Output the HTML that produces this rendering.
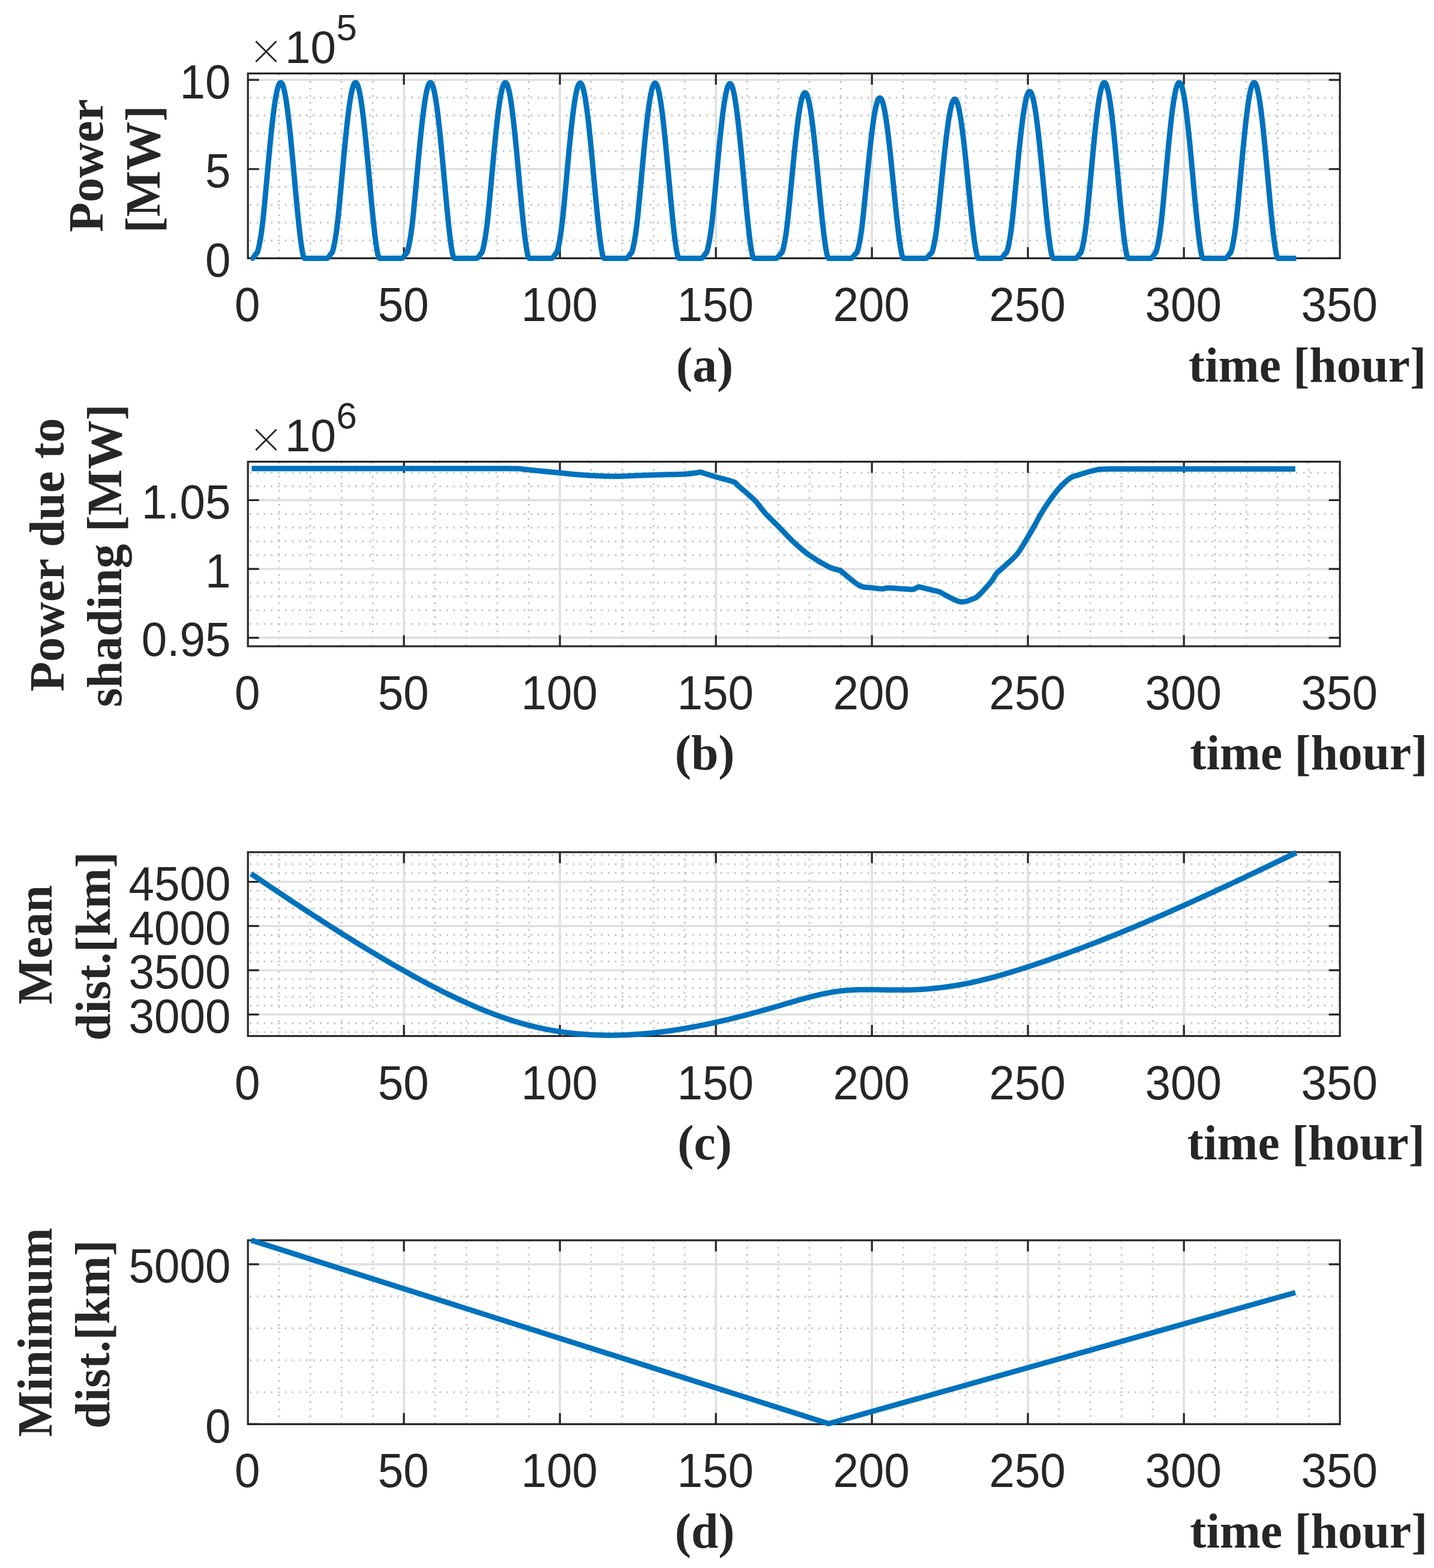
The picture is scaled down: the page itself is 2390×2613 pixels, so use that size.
<!DOCTYPE html>
<html><head><meta charset="utf-8"><title>Figure</title>
<style>html,body{margin:0;padding:0;background:#fff}svg{display:block}</style></head>
<body><svg width="2390" height="2613" viewBox="0 0 2390 2613">
<rect width="100%" height="100%" fill="#fff"/>
<path d="M465.2 430.4V122.4M517.2 430.4V122.4M569.2 430.4V122.4M621.2 430.4V122.4M725.2 430.4V122.4M777.2 430.4V122.4M829.2 430.4V122.4M881.2 430.4V122.4M985.2 430.4V122.4M1037.2 430.4V122.4M1089.2 430.4V122.4M1141.2 430.4V122.4M1245.2 430.4V122.4M1297.2 430.4V122.4M1349.2 430.4V122.4M1401.2 430.4V122.4M1505.2 430.4V122.4M1557.2 430.4V122.4M1609.2 430.4V122.4M1661.2 430.4V122.4M1765.2 430.4V122.4M1817.2 430.4V122.4M1869.2 430.4V122.4M1921.2 430.4V122.4M2025.2 430.4V122.4M2077.2 430.4V122.4M2129.2 430.4V122.4M2181.2 430.4V122.4M2233.2 400.67H413.2M2233.2 370.94H413.2M2233.2 341.21H413.2M2233.2 311.48H413.2M2233.2 252.02H413.2M2233.2 222.29H413.2M2233.2 192.56H413.2M2233.2 162.83H413.2" stroke="#c8c8c8" stroke-width="3" stroke-dasharray="3 8.704" fill="none"/>
<path d="M673.2 122.4V430.4M933.2 122.4V430.4M1193.2 122.4V430.4M1453.2 122.4V430.4M1713.2 122.4V430.4M1973.2 122.4V430.4M413.2 430.4H2233.2M413.2 281.75H2233.2M413.2 133.1H2233.2" stroke="#dedede" stroke-width="3.4" fill="none"/>
<path d="M673.2 430.4v-18.5M673.2 122.4v18.5M933.2 430.4v-18.5M933.2 122.4v18.5M1193.2 430.4v-18.5M1193.2 122.4v18.5M1453.2 430.4v-18.5M1453.2 122.4v18.5M1713.2 430.4v-18.5M1713.2 122.4v18.5M1973.2 430.4v-18.5M1973.2 122.4v18.5M413.2 430.4h18.5M2233.2 430.4h-18.5M413.2 281.75h18.5M2233.2 281.75h-18.5M413.2 133.1h18.5M2233.2 133.1h-18.5" stroke="#262626" stroke-width="3.2" fill="none"/>
<rect x="413.2" y="122.4" width="1820" height="308" fill="none" stroke="#262626" stroke-width="3.2"/>
<path d="M418.4 430.4 L419.44 430.4 L420.48 430.34 L421.52 429.83 L422.56 428.86 L423.6 427.55 L424.64 426.04 L425.68 424.48 L426.72 423.04 L427.76 421.89 L428.8 420.73 L429.84 417.81 L430.88 413.87 L431.92 409.22 L432.96 403.98 L434 398.14 L435.04 391.65 L436.08 384.46 L437.12 376.46 L438.16 367.61 L439.2 357.86 L440.24 347.3 L441.28 336.38 L442.32 325.23 L443.36 313.93 L444.4 302.52 L445.44 291.09 L446.48 279.68 L447.52 268.37 L448.56 257.21 L449.6 246.26 L450.64 235.58 L451.68 225.22 L452.72 215.23 L453.76 205.67 L454.8 196.58 L455.84 188.01 L456.88 179.99 L457.92 172.58 L458.96 165.8 L460 159.69 L461.04 154.28 L462.08 149.59 L463.12 145.64 L464.16 142.47 L465.2 140.07 L466.24 138.46 L467.28 137.66 L468.32 137.66 L469.36 138.46 L470.4 140.07 L471.44 142.47 L472.48 145.64 L473.52 149.59 L474.56 154.28 L475.6 159.69 L476.64 165.8 L477.68 172.58 L478.72 179.99 L479.76 188.01 L480.8 196.58 L481.84 205.67 L482.88 215.23 L483.92 225.22 L484.96 235.58 L486 246.26 L487.04 257.21 L488.08 268.37 L489.12 279.68 L490.16 291.09 L491.2 302.52 L492.24 313.93 L493.28 325.23 L494.32 336.38 L495.36 347.3 L496.4 357.92 L497.44 368.18 L498.48 378 L499.52 387.3 L500.56 396.02 L501.6 404.06 L502.64 411.33 L503.68 417.73 L504.72 423.13 L505.76 427.32 L506.8 429.99 L507.84 430.4 L508.88 430.4 L509.92 430.4 L510.96 430.4 L512 430.4 L513.04 430.4 L514.08 430.4 L515.12 430.4 L516.16 430.4 L517.2 430.4 L518.24 430.4 L519.28 430.4 L520.32 430.4 L521.36 430.4 L522.4 430.4 L523.44 430.4 L524.48 430.4 L525.52 430.4 L526.56 430.4 L527.6 430.4 L528.64 430.4 L529.68 430.4 L530.72 430.4 L531.76 430.4 L532.8 430.4 L533.84 430.4 L534.88 430.4 L535.92 430.4 L536.96 430.4 L538 430.4 L539.04 430.4 L540.08 430.4 L541.12 430.4 L542.16 430.4 L543.2 430.4 L544.24 430.4 L545.28 430.34 L546.32 429.83 L547.36 428.86 L548.4 427.55 L549.44 426.04 L550.48 424.48 L551.52 423.04 L552.56 421.89 L553.6 420.73 L554.64 417.81 L555.68 413.87 L556.72 409.22 L557.76 403.98 L558.8 398.14 L559.84 391.65 L560.88 384.46 L561.92 376.46 L562.96 367.61 L564 357.86 L565.04 347.3 L566.08 336.38 L567.12 325.23 L568.16 313.93 L569.2 302.52 L570.24 291.09 L571.28 279.68 L572.32 268.37 L573.36 257.21 L574.4 246.26 L575.44 235.58 L576.48 225.22 L577.52 215.23 L578.56 205.67 L579.6 196.58 L580.64 188.01 L581.68 179.99 L582.72 172.58 L583.76 165.8 L584.8 159.69 L585.84 154.28 L586.88 149.59 L587.92 145.64 L588.96 142.47 L590 140.07 L591.04 138.46 L592.08 137.66 L593.12 137.66 L594.16 138.46 L595.2 140.07 L596.24 142.47 L597.28 145.64 L598.32 149.59 L599.36 154.28 L600.4 159.69 L601.44 165.8 L602.48 172.58 L603.52 179.99 L604.56 188.01 L605.6 196.58 L606.64 205.67 L607.68 215.23 L608.72 225.22 L609.76 235.58 L610.8 246.26 L611.84 257.21 L612.88 268.37 L613.92 279.68 L614.96 291.09 L616 302.52 L617.04 313.93 L618.08 325.23 L619.12 336.38 L620.16 347.3 L621.2 357.92 L622.24 368.18 L623.28 378 L624.32 387.3 L625.36 396.02 L626.4 404.06 L627.44 411.33 L628.48 417.73 L629.52 423.13 L630.56 427.32 L631.6 429.99 L632.64 430.4 L633.68 430.4 L634.72 430.4 L635.76 430.4 L636.8 430.4 L637.84 430.4 L638.88 430.4 L639.92 430.4 L640.96 430.4 L642 430.4 L643.04 430.4 L644.08 430.4 L645.12 430.4 L646.16 430.4 L647.2 430.4 L648.24 430.4 L649.28 430.4 L650.32 430.4 L651.36 430.4 L652.4 430.4 L653.44 430.4 L654.48 430.4 L655.52 430.4 L656.56 430.4 L657.6 430.4 L658.64 430.4 L659.68 430.4 L660.72 430.4 L661.76 430.4 L662.8 430.4 L663.84 430.4 L664.88 430.4 L665.92 430.4 L666.96 430.4 L668 430.4 L669.04 430.4 L670.08 430.34 L671.12 429.83 L672.16 428.86 L673.2 427.55 L674.24 426.04 L675.28 424.48 L676.32 423.04 L677.36 421.89 L678.4 420.73 L679.44 417.81 L680.48 413.87 L681.52 409.22 L682.56 403.98 L683.6 398.14 L684.64 391.65 L685.68 384.46 L686.72 376.46 L687.76 367.61 L688.8 357.86 L689.84 347.3 L690.88 336.38 L691.92 325.23 L692.96 313.93 L694 302.52 L695.04 291.09 L696.08 279.68 L697.12 268.37 L698.16 257.21 L699.2 246.26 L700.24 235.58 L701.28 225.22 L702.32 215.23 L703.36 205.67 L704.4 196.58 L705.44 188.01 L706.48 179.99 L707.52 172.58 L708.56 165.8 L709.6 159.69 L710.64 154.28 L711.68 149.59 L712.72 145.64 L713.76 142.47 L714.8 140.07 L715.84 138.46 L716.88 137.66 L717.92 137.66 L718.96 138.46 L720 140.07 L721.04 142.47 L722.08 145.64 L723.12 149.59 L724.16 154.28 L725.2 159.69 L726.24 165.8 L727.28 172.58 L728.32 179.99 L729.36 188.01 L730.4 196.58 L731.44 205.67 L732.48 215.23 L733.52 225.22 L734.56 235.58 L735.6 246.26 L736.64 257.21 L737.68 268.37 L738.72 279.68 L739.76 291.09 L740.8 302.52 L741.84 313.93 L742.88 325.23 L743.92 336.38 L744.96 347.3 L746 357.92 L747.04 368.18 L748.08 378 L749.12 387.3 L750.16 396.02 L751.2 404.06 L752.24 411.33 L753.28 417.73 L754.32 423.13 L755.36 427.32 L756.4 429.99 L757.44 430.4 L758.48 430.4 L759.52 430.4 L760.56 430.4 L761.6 430.4 L762.64 430.4 L763.68 430.4 L764.72 430.4 L765.76 430.4 L766.8 430.4 L767.84 430.4 L768.88 430.4 L769.92 430.4 L770.96 430.4 L772 430.4 L773.04 430.4 L774.08 430.4 L775.12 430.4 L776.16 430.4 L777.2 430.4 L778.24 430.4 L779.28 430.4 L780.32 430.4 L781.36 430.4 L782.4 430.4 L783.44 430.4 L784.48 430.4 L785.52 430.4 L786.56 430.4 L787.6 430.4 L788.64 430.4 L789.68 430.4 L790.72 430.4 L791.76 430.4 L792.8 430.4 L793.84 430.4 L794.88 430.34 L795.92 429.83 L796.96 428.86 L798 427.55 L799.04 426.04 L800.08 424.48 L801.12 423.04 L802.16 421.89 L803.2 420.73 L804.24 417.81 L805.28 413.87 L806.32 409.22 L807.36 403.98 L808.4 398.14 L809.44 391.65 L810.48 384.46 L811.52 376.46 L812.56 367.61 L813.6 357.86 L814.64 347.3 L815.68 336.38 L816.72 325.23 L817.76 313.93 L818.8 302.52 L819.84 291.09 L820.88 279.68 L821.92 268.37 L822.96 257.21 L824 246.26 L825.04 235.58 L826.08 225.22 L827.12 215.23 L828.16 205.67 L829.2 196.58 L830.24 188.01 L831.28 179.99 L832.32 172.58 L833.36 165.8 L834.4 159.69 L835.44 154.28 L836.48 149.59 L837.52 145.64 L838.56 142.47 L839.6 140.07 L840.64 138.46 L841.68 137.66 L842.72 137.66 L843.76 138.46 L844.8 140.07 L845.84 142.47 L846.88 145.64 L847.92 149.59 L848.96 154.28 L850 159.69 L851.04 165.8 L852.08 172.58 L853.12 179.99 L854.16 188.01 L855.2 196.58 L856.24 205.67 L857.28 215.23 L858.32 225.22 L859.36 235.58 L860.4 246.26 L861.44 257.21 L862.48 268.37 L863.52 279.68 L864.56 291.09 L865.6 302.52 L866.64 313.93 L867.68 325.23 L868.72 336.38 L869.76 347.3 L870.8 357.92 L871.84 368.18 L872.88 378 L873.92 387.3 L874.96 396.02 L876 404.06 L877.04 411.33 L878.08 417.73 L879.12 423.13 L880.16 427.32 L881.2 429.99 L882.24 430.4 L883.28 430.4 L884.32 430.4 L885.36 430.4 L886.4 430.4 L887.44 430.4 L888.48 430.4 L889.52 430.4 L890.56 430.4 L891.6 430.4 L892.64 430.4 L893.68 430.4 L894.72 430.4 L895.76 430.4 L896.8 430.4 L897.84 430.4 L898.88 430.4 L899.92 430.4 L900.96 430.4 L902 430.4 L903.04 430.4 L904.08 430.4 L905.12 430.4 L906.16 430.4 L907.2 430.4 L908.24 430.4 L909.28 430.4 L910.32 430.4 L911.36 430.4 L912.4 430.4 L913.44 430.4 L914.48 430.4 L915.52 430.4 L916.56 430.4 L917.6 430.4 L918.64 430.4 L919.68 430.34 L920.72 429.83 L921.76 428.87 L922.8 427.56 L923.84 426.05 L924.88 424.49 L925.92 423.06 L926.96 421.92 L928 420.76 L929.04 417.85 L930.08 413.92 L931.12 409.29 L932.16 404.06 L933.2 398.23 L934.24 391.77 L935.28 384.6 L936.32 376.63 L937.36 367.8 L938.4 358.08 L939.44 347.55 L940.48 336.67 L941.52 325.56 L942.56 314.28 L943.6 302.91 L944.64 291.51 L945.68 280.14 L946.72 268.86 L947.76 257.74 L948.8 246.82 L949.84 236.17 L950.88 225.84 L951.92 215.89 L952.96 206.35 L954 197.29 L955.04 188.75 L956.08 180.76 L957.12 173.36 L958.16 166.61 L959.2 160.51 L960.24 155.12 L961.28 150.44 L962.32 146.51 L963.36 143.34 L964.4 140.95 L965.44 139.35 L966.48 138.55 L967.52 138.55 L968.56 139.35 L969.6 140.95 L970.64 143.34 L971.68 146.51 L972.72 150.44 L973.76 155.12 L974.8 160.51 L975.84 166.61 L976.88 173.36 L977.92 180.76 L978.96 188.75 L980 197.29 L981.04 206.35 L982.08 215.89 L983.12 225.84 L984.16 236.17 L985.2 246.82 L986.24 257.74 L987.28 268.86 L988.32 280.14 L989.36 291.51 L990.4 302.91 L991.44 314.28 L992.48 325.56 L993.52 336.67 L994.56 347.55 L995.6 358.14 L996.64 368.37 L997.68 378.16 L998.72 387.43 L999.76 396.12 L1000.8 404.14 L1001.84 411.39 L1002.88 417.77 L1003.92 423.15 L1004.96 427.33 L1006 429.99 L1007.04 430.4 L1008.08 430.4 L1009.12 430.4 L1010.16 430.4 L1011.2 430.4 L1012.24 430.4 L1013.28 430.4 L1014.32 430.4 L1015.36 430.4 L1016.4 430.4 L1017.44 430.4 L1018.48 430.4 L1019.52 430.4 L1020.56 430.4 L1021.6 430.4 L1022.64 430.4 L1023.68 430.4 L1024.72 430.4 L1025.76 430.4 L1026.8 430.4 L1027.84 430.4 L1028.88 430.4 L1029.92 430.4 L1030.96 430.4 L1032 430.4 L1033.04 430.4 L1034.08 430.4 L1035.12 430.4 L1036.16 430.4 L1037.2 430.4 L1038.24 430.4 L1039.28 430.4 L1040.32 430.4 L1041.36 430.4 L1042.4 430.4 L1043.44 430.4 L1044.48 430.34 L1045.52 429.83 L1046.56 428.87 L1047.6 427.56 L1048.64 426.05 L1049.68 424.49 L1050.72 423.06 L1051.76 421.92 L1052.8 420.76 L1053.84 417.85 L1054.88 413.92 L1055.92 409.29 L1056.96 404.06 L1058 398.23 L1059.04 391.77 L1060.08 384.6 L1061.12 376.63 L1062.16 367.8 L1063.2 358.08 L1064.24 347.55 L1065.28 336.67 L1066.32 325.56 L1067.36 314.28 L1068.4 302.91 L1069.44 291.51 L1070.48 280.14 L1071.52 268.86 L1072.56 257.74 L1073.6 246.82 L1074.64 236.17 L1075.68 225.84 L1076.72 215.89 L1077.76 206.35 L1078.8 197.29 L1079.84 188.75 L1080.88 180.76 L1081.92 173.36 L1082.96 166.61 L1084 160.51 L1085.04 155.12 L1086.08 150.44 L1087.12 146.51 L1088.16 143.34 L1089.2 140.95 L1090.24 139.35 L1091.28 138.55 L1092.32 138.55 L1093.36 139.35 L1094.4 140.95 L1095.44 143.34 L1096.48 146.51 L1097.52 150.44 L1098.56 155.12 L1099.6 160.51 L1100.64 166.61 L1101.68 173.36 L1102.72 180.76 L1103.76 188.75 L1104.8 197.29 L1105.84 206.35 L1106.88 215.89 L1107.92 225.84 L1108.96 236.17 L1110 246.82 L1111.04 257.74 L1112.08 268.86 L1113.12 280.14 L1114.16 291.51 L1115.2 302.91 L1116.24 314.28 L1117.28 325.56 L1118.32 336.67 L1119.36 347.55 L1120.4 358.14 L1121.44 368.37 L1122.48 378.16 L1123.52 387.43 L1124.56 396.12 L1125.6 404.14 L1126.64 411.39 L1127.68 417.77 L1128.72 423.15 L1129.76 427.33 L1130.8 429.99 L1131.84 430.4 L1132.88 430.4 L1133.92 430.4 L1134.96 430.4 L1136 430.4 L1137.04 430.4 L1138.08 430.4 L1139.12 430.4 L1140.16 430.4 L1141.2 430.4 L1142.24 430.4 L1143.28 430.4 L1144.32 430.4 L1145.36 430.4 L1146.4 430.4 L1147.44 430.4 L1148.48 430.4 L1149.52 430.4 L1150.56 430.4 L1151.6 430.4 L1152.64 430.4 L1153.68 430.4 L1154.72 430.4 L1155.76 430.4 L1156.8 430.4 L1157.84 430.4 L1158.88 430.4 L1159.92 430.4 L1160.96 430.4 L1162 430.4 L1163.04 430.4 L1164.08 430.4 L1165.12 430.4 L1166.16 430.4 L1167.2 430.4 L1168.24 430.4 L1169.28 430.34 L1170.32 429.83 L1171.36 428.87 L1172.4 427.57 L1173.44 426.06 L1174.48 424.51 L1175.52 423.09 L1176.56 421.94 L1177.6 420.79 L1178.64 417.89 L1179.68 413.97 L1180.72 409.35 L1181.76 404.14 L1182.8 398.33 L1183.84 391.89 L1184.88 384.74 L1185.92 376.79 L1186.96 367.99 L1188 358.3 L1189.04 347.81 L1190.08 336.95 L1191.12 325.88 L1192.16 314.64 L1193.2 303.3 L1194.24 291.93 L1195.28 280.6 L1196.32 269.36 L1197.36 258.26 L1198.4 247.38 L1199.44 236.76 L1200.48 226.47 L1201.52 216.54 L1202.56 207.04 L1203.6 198 L1204.64 189.48 L1205.68 181.52 L1206.72 174.15 L1207.76 167.41 L1208.8 161.34 L1209.84 155.96 L1210.88 151.3 L1211.92 147.38 L1212.96 144.22 L1214 141.84 L1215.04 140.24 L1216.08 139.44 L1217.12 139.44 L1218.16 140.24 L1219.2 141.84 L1220.24 144.22 L1221.28 147.38 L1222.32 151.3 L1223.36 155.96 L1224.4 161.34 L1225.44 167.41 L1226.48 174.15 L1227.52 181.52 L1228.56 189.48 L1229.6 198 L1230.64 207.04 L1231.68 216.54 L1232.72 226.47 L1233.76 236.76 L1234.8 247.38 L1235.84 258.26 L1236.88 269.36 L1237.92 280.6 L1238.96 291.93 L1240 303.3 L1241.04 314.64 L1242.08 325.88 L1243.12 336.95 L1244.16 347.81 L1245.2 358.36 L1246.24 368.56 L1247.28 378.32 L1248.32 387.57 L1249.36 396.23 L1250.4 404.22 L1251.44 411.45 L1252.48 417.81 L1253.52 423.17 L1254.56 427.34 L1255.6 429.99 L1256.64 430.4 L1257.68 430.4 L1258.72 430.4 L1259.76 430.4 L1260.8 430.4 L1261.84 430.4 L1262.88 430.4 L1263.92 430.4 L1264.96 430.4 L1266 430.4 L1267.04 430.4 L1268.08 430.4 L1269.12 430.4 L1270.16 430.4 L1271.2 430.4 L1272.24 430.4 L1273.28 430.4 L1274.32 430.4 L1275.36 430.4 L1276.4 430.4 L1277.44 430.4 L1278.48 430.4 L1279.52 430.4 L1280.56 430.4 L1281.6 430.4 L1282.64 430.4 L1283.68 430.4 L1284.72 430.4 L1285.76 430.4 L1286.8 430.4 L1287.84 430.4 L1288.88 430.4 L1289.92 430.4 L1290.96 430.4 L1292 430.4 L1293.04 430.4 L1294.08 430.34 L1295.12 429.86 L1296.16 428.95 L1297.2 427.72 L1298.24 426.29 L1299.28 424.82 L1300.32 423.47 L1301.36 422.38 L1302.4 421.68 L1303.44 420.35 L1304.48 417.47 L1305.52 413.72 L1306.56 409.29 L1307.6 404.2 L1308.64 398.44 L1309.68 391.93 L1310.72 384.62 L1311.76 376.44 L1312.8 367.38 L1313.84 357.51 L1314.88 347.25 L1315.92 336.74 L1316.96 326.04 L1318 315.22 L1319.04 304.34 L1320.08 293.46 L1321.12 282.64 L1322.16 271.94 L1323.2 261.42 L1324.24 251.13 L1325.28 241.13 L1326.32 231.47 L1327.36 222.2 L1328.4 213.36 L1329.44 205.01 L1330.48 197.17 L1331.52 189.91 L1332.56 183.24 L1333.6 177.2 L1334.64 171.82 L1335.68 167.14 L1336.72 163.16 L1337.76 159.92 L1338.8 157.43 L1339.84 155.69 L1340.88 154.72 L1341.92 154.53 L1342.96 155.11 L1344 156.46 L1345.04 158.58 L1346.08 161.45 L1347.12 165.06 L1348.16 169.39 L1349.2 174.43 L1350.24 180.14 L1351.28 186.49 L1352.32 193.47 L1353.36 201.02 L1354.4 209.12 L1355.44 217.72 L1356.48 226.78 L1357.52 236.25 L1358.56 246.09 L1359.6 256.24 L1360.64 266.65 L1361.68 277.27 L1362.72 288.04 L1363.76 298.9 L1364.8 309.79 L1365.84 320.65 L1366.88 331.41 L1367.92 342.02 L1368.96 352.41 L1370 362.52 L1371.04 372.27 L1372.08 381.59 L1373.12 390.41 L1374.16 398.67 L1375.2 406.26 L1376.24 413.11 L1377.28 419.1 L1378.32 424.11 L1379.36 427.94 L1380.4 430.21 L1381.44 430.4 L1382.48 430.4 L1383.52 430.4 L1384.56 430.4 L1385.6 430.4 L1386.64 430.4 L1387.68 430.4 L1388.72 430.4 L1389.76 430.4 L1390.8 430.4 L1391.84 430.4 L1392.88 430.4 L1393.92 430.4 L1394.96 430.4 L1396 430.4 L1397.04 430.4 L1398.08 430.4 L1399.12 430.4 L1400.16 430.4 L1401.2 430.4 L1402.24 430.4 L1403.28 430.4 L1404.32 430.4 L1405.36 430.4 L1406.4 430.4 L1407.44 430.4 L1408.48 430.4 L1409.52 430.4 L1410.56 430.4 L1411.6 430.4 L1412.64 430.4 L1413.68 430.4 L1414.72 430.4 L1415.76 430.4 L1416.8 430.4 L1417.84 430.4 L1418.88 430.34 L1419.92 429.88 L1420.96 429 L1422 427.8 L1423.04 426.42 L1424.08 424.99 L1425.12 423.68 L1426.16 422.63 L1427.2 421.95 L1428.24 420.66 L1429.28 417.87 L1430.32 414.24 L1431.36 409.95 L1432.4 405.02 L1433.44 399.44 L1434.48 393.14 L1435.52 386.05 L1436.56 378.13 L1437.6 369.35 L1438.64 359.78 L1439.68 349.85 L1440.72 339.67 L1441.76 329.31 L1442.8 318.82 L1443.84 308.28 L1444.88 297.74 L1445.92 287.26 L1446.96 276.89 L1448 266.7 L1449.04 256.73 L1450.08 247.04 L1451.12 237.68 L1452.16 228.7 L1453.2 220.14 L1454.24 212.05 L1455.28 204.46 L1456.32 197.42 L1457.36 190.96 L1458.4 185.11 L1459.44 179.9 L1460.48 175.36 L1461.52 171.51 L1462.56 168.37 L1463.6 165.96 L1464.64 164.27 L1465.68 163.34 L1466.72 163.15 L1467.76 163.71 L1468.8 165.02 L1469.84 167.07 L1470.88 169.85 L1471.92 173.35 L1472.96 177.55 L1474 182.43 L1475.04 187.96 L1476.08 194.12 L1477.12 200.87 L1478.16 208.19 L1479.2 216.03 L1480.24 224.37 L1481.28 233.14 L1482.32 242.32 L1483.36 251.85 L1484.4 261.68 L1485.44 271.77 L1486.48 282.06 L1487.52 292.49 L1488.56 303.01 L1489.6 313.55 L1490.64 324.07 L1491.68 334.51 L1492.72 344.79 L1493.76 354.85 L1494.8 364.64 L1495.84 374.08 L1496.88 383.11 L1497.92 391.66 L1498.96 399.66 L1500 407.01 L1501.04 413.65 L1502.08 419.46 L1503.12 424.31 L1504.16 428.02 L1505.2 430.22 L1506.24 430.4 L1507.28 430.4 L1508.32 430.4 L1509.36 430.4 L1510.4 430.4 L1511.44 430.4 L1512.48 430.4 L1513.52 430.4 L1514.56 430.4 L1515.6 430.4 L1516.64 430.4 L1517.68 430.4 L1518.72 430.4 L1519.76 430.4 L1520.8 430.4 L1521.84 430.4 L1522.88 430.4 L1523.92 430.4 L1524.96 430.4 L1526 430.4 L1527.04 430.4 L1528.08 430.4 L1529.12 430.4 L1530.16 430.4 L1531.2 430.4 L1532.24 430.4 L1533.28 430.4 L1534.32 430.4 L1535.36 430.4 L1536.4 430.4 L1537.44 430.4 L1538.48 430.4 L1539.52 430.4 L1540.56 430.4 L1541.6 430.4 L1542.64 430.4 L1543.68 430.34 L1544.72 429.88 L1545.76 429.01 L1546.8 427.82 L1547.84 426.45 L1548.88 425.03 L1549.92 423.74 L1550.96 422.69 L1552 422.02 L1553.04 420.74 L1554.08 417.97 L1555.12 414.37 L1556.16 410.11 L1557.2 405.22 L1558.24 399.68 L1559.28 393.43 L1560.32 386.4 L1561.36 378.54 L1562.4 369.82 L1563.44 360.33 L1564.48 350.48 L1565.52 340.37 L1566.56 330.09 L1567.6 319.69 L1568.64 309.23 L1569.68 298.77 L1570.72 288.37 L1571.76 278.09 L1572.8 267.97 L1573.84 258.08 L1574.88 248.47 L1575.92 239.19 L1576.96 230.27 L1578 221.78 L1579.04 213.75 L1580.08 206.22 L1581.12 199.23 L1582.16 192.82 L1583.2 187.02 L1584.24 181.85 L1585.28 177.35 L1586.32 173.53 L1587.36 170.41 L1588.4 168.01 L1589.44 166.35 L1590.48 165.42 L1591.52 165.23 L1592.56 165.79 L1593.6 167.09 L1594.64 169.12 L1595.68 171.88 L1596.72 175.35 L1597.76 179.52 L1598.8 184.36 L1599.84 189.84 L1600.88 195.96 L1601.92 202.66 L1602.96 209.92 L1604 217.7 L1605.04 225.97 L1606.08 234.68 L1607.12 243.78 L1608.16 253.24 L1609.2 263 L1610.24 273.01 L1611.28 283.21 L1612.32 293.56 L1613.36 304 L1614.4 314.46 L1615.44 324.9 L1616.48 335.25 L1617.52 345.45 L1618.56 355.44 L1619.6 365.15 L1620.64 374.52 L1621.68 383.48 L1622.72 391.96 L1623.76 399.9 L1624.8 407.2 L1625.84 413.78 L1626.88 419.54 L1627.92 424.36 L1628.96 428.04 L1630 430.22 L1631.04 430.4 L1632.08 430.4 L1633.12 430.4 L1634.16 430.4 L1635.2 430.4 L1636.24 430.4 L1637.28 430.4 L1638.32 430.4 L1639.36 430.4 L1640.4 430.4 L1641.44 430.4 L1642.48 430.4 L1643.52 430.4 L1644.56 430.4 L1645.6 430.4 L1646.64 430.4 L1647.68 430.4 L1648.72 430.4 L1649.76 430.4 L1650.8 430.4 L1651.84 430.4 L1652.88 430.4 L1653.92 430.4 L1654.96 430.4 L1656 430.4 L1657.04 430.4 L1658.08 430.4 L1659.12 430.4 L1660.16 430.4 L1661.2 430.4 L1662.24 430.4 L1663.28 430.4 L1664.32 430.4 L1665.36 430.4 L1666.4 430.4 L1667.44 430.4 L1668.48 430.34 L1669.52 429.86 L1670.56 428.94 L1671.6 427.7 L1672.64 426.26 L1673.68 424.78 L1674.72 423.42 L1675.76 422.32 L1676.8 421.61 L1677.84 420.27 L1678.88 417.37 L1679.92 413.6 L1680.96 409.13 L1682 404 L1683.04 398.2 L1684.08 391.64 L1685.12 384.28 L1686.16 376.04 L1687.2 366.9 L1688.24 356.96 L1689.28 346.62 L1690.32 336.03 L1691.36 325.26 L1692.4 314.35 L1693.44 303.39 L1694.48 292.43 L1695.52 281.53 L1696.56 270.75 L1697.6 260.14 L1698.64 249.78 L1699.68 239.7 L1700.72 229.97 L1701.76 220.63 L1702.8 211.72 L1703.84 203.31 L1704.88 195.41 L1705.92 188.09 L1706.96 181.37 L1708 175.29 L1709.04 169.87 L1710.08 165.15 L1711.12 161.15 L1712.16 157.88 L1713.2 155.37 L1714.24 153.62 L1715.28 152.64 L1716.32 152.45 L1717.36 153.03 L1718.4 154.4 L1719.44 156.53 L1720.48 159.42 L1721.52 163.06 L1722.56 167.42 L1723.6 172.5 L1724.64 178.25 L1725.68 184.65 L1726.72 191.68 L1727.76 199.29 L1728.8 207.45 L1729.84 216.12 L1730.88 225.24 L1731.92 234.79 L1732.96 244.7 L1734 254.93 L1735.04 265.42 L1736.08 276.12 L1737.12 286.96 L1738.16 297.9 L1739.2 308.88 L1740.24 319.82 L1741.28 330.67 L1742.32 341.36 L1743.36 351.83 L1744.4 362 L1745.44 371.83 L1746.48 381.22 L1747.52 390.11 L1748.56 398.43 L1749.6 406.08 L1750.64 412.98 L1751.68 419.02 L1752.72 424.06 L1753.76 427.92 L1754.8 430.21 L1755.84 430.4 L1756.88 430.4 L1757.92 430.4 L1758.96 430.4 L1760 430.4 L1761.04 430.4 L1762.08 430.4 L1763.12 430.4 L1764.16 430.4 L1765.2 430.4 L1766.24 430.4 L1767.28 430.4 L1768.32 430.4 L1769.36 430.4 L1770.4 430.4 L1771.44 430.4 L1772.48 430.4 L1773.52 430.4 L1774.56 430.4 L1775.6 430.4 L1776.64 430.4 L1777.68 430.4 L1778.72 430.4 L1779.76 430.4 L1780.8 430.4 L1781.84 430.4 L1782.88 430.4 L1783.92 430.4 L1784.96 430.4 L1786 430.4 L1787.04 430.4 L1788.08 430.4 L1789.12 430.4 L1790.16 430.4 L1791.2 430.4 L1792.24 430.4 L1793.28 430.34 L1794.32 429.83 L1795.36 428.86 L1796.4 427.55 L1797.44 426.04 L1798.48 424.48 L1799.52 423.04 L1800.56 421.89 L1801.6 420.73 L1802.64 417.81 L1803.68 413.87 L1804.72 409.22 L1805.76 403.98 L1806.8 398.14 L1807.84 391.65 L1808.88 384.46 L1809.92 376.46 L1810.96 367.61 L1812 357.86 L1813.04 347.3 L1814.08 336.38 L1815.12 325.23 L1816.16 313.93 L1817.2 302.52 L1818.24 291.09 L1819.28 279.68 L1820.32 268.37 L1821.36 257.21 L1822.4 246.26 L1823.44 235.58 L1824.48 225.22 L1825.52 215.23 L1826.56 205.67 L1827.6 196.58 L1828.64 188.01 L1829.68 179.99 L1830.72 172.58 L1831.76 165.8 L1832.8 159.69 L1833.84 154.28 L1834.88 149.59 L1835.92 145.64 L1836.96 142.47 L1838 140.07 L1839.04 138.46 L1840.08 137.66 L1841.12 137.66 L1842.16 138.46 L1843.2 140.07 L1844.24 142.47 L1845.28 145.64 L1846.32 149.59 L1847.36 154.28 L1848.4 159.69 L1849.44 165.8 L1850.48 172.58 L1851.52 179.99 L1852.56 188.01 L1853.6 196.58 L1854.64 205.67 L1855.68 215.23 L1856.72 225.22 L1857.76 235.58 L1858.8 246.26 L1859.84 257.21 L1860.88 268.37 L1861.92 279.68 L1862.96 291.09 L1864 302.52 L1865.04 313.93 L1866.08 325.23 L1867.12 336.38 L1868.16 347.3 L1869.2 357.92 L1870.24 368.18 L1871.28 378 L1872.32 387.3 L1873.36 396.02 L1874.4 404.06 L1875.44 411.33 L1876.48 417.73 L1877.52 423.13 L1878.56 427.32 L1879.6 429.99 L1880.64 430.4 L1881.68 430.4 L1882.72 430.4 L1883.76 430.4 L1884.8 430.4 L1885.84 430.4 L1886.88 430.4 L1887.92 430.4 L1888.96 430.4 L1890 430.4 L1891.04 430.4 L1892.08 430.4 L1893.12 430.4 L1894.16 430.4 L1895.2 430.4 L1896.24 430.4 L1897.28 430.4 L1898.32 430.4 L1899.36 430.4 L1900.4 430.4 L1901.44 430.4 L1902.48 430.4 L1903.52 430.4 L1904.56 430.4 L1905.6 430.4 L1906.64 430.4 L1907.68 430.4 L1908.72 430.4 L1909.76 430.4 L1910.8 430.4 L1911.84 430.4 L1912.88 430.4 L1913.92 430.4 L1914.96 430.4 L1916 430.4 L1917.04 430.4 L1918.08 430.34 L1919.12 429.83 L1920.16 428.86 L1921.2 427.55 L1922.24 426.04 L1923.28 424.48 L1924.32 423.04 L1925.36 421.89 L1926.4 420.73 L1927.44 417.81 L1928.48 413.87 L1929.52 409.22 L1930.56 403.98 L1931.6 398.14 L1932.64 391.65 L1933.68 384.46 L1934.72 376.46 L1935.76 367.61 L1936.8 357.86 L1937.84 347.3 L1938.88 336.38 L1939.92 325.23 L1940.96 313.93 L1942 302.52 L1943.04 291.09 L1944.08 279.68 L1945.12 268.37 L1946.16 257.21 L1947.2 246.26 L1948.24 235.58 L1949.28 225.22 L1950.32 215.23 L1951.36 205.67 L1952.4 196.58 L1953.44 188.01 L1954.48 179.99 L1955.52 172.58 L1956.56 165.8 L1957.6 159.69 L1958.64 154.28 L1959.68 149.59 L1960.72 145.64 L1961.76 142.47 L1962.8 140.07 L1963.84 138.46 L1964.88 137.66 L1965.92 137.66 L1966.96 138.46 L1968 140.07 L1969.04 142.47 L1970.08 145.64 L1971.12 149.59 L1972.16 154.28 L1973.2 159.69 L1974.24 165.8 L1975.28 172.58 L1976.32 179.99 L1977.36 188.01 L1978.4 196.58 L1979.44 205.67 L1980.48 215.23 L1981.52 225.22 L1982.56 235.58 L1983.6 246.26 L1984.64 257.21 L1985.68 268.37 L1986.72 279.68 L1987.76 291.09 L1988.8 302.52 L1989.84 313.93 L1990.88 325.23 L1991.92 336.38 L1992.96 347.3 L1994 357.92 L1995.04 368.18 L1996.08 378 L1997.12 387.3 L1998.16 396.02 L1999.2 404.06 L2000.24 411.33 L2001.28 417.73 L2002.32 423.13 L2003.36 427.32 L2004.4 429.99 L2005.44 430.4 L2006.48 430.4 L2007.52 430.4 L2008.56 430.4 L2009.6 430.4 L2010.64 430.4 L2011.68 430.4 L2012.72 430.4 L2013.76 430.4 L2014.8 430.4 L2015.84 430.4 L2016.88 430.4 L2017.92 430.4 L2018.96 430.4 L2020 430.4 L2021.04 430.4 L2022.08 430.4 L2023.12 430.4 L2024.16 430.4 L2025.2 430.4 L2026.24 430.4 L2027.28 430.4 L2028.32 430.4 L2029.36 430.4 L2030.4 430.4 L2031.44 430.4 L2032.48 430.4 L2033.52 430.4 L2034.56 430.4 L2035.6 430.4 L2036.64 430.4 L2037.68 430.4 L2038.72 430.4 L2039.76 430.4 L2040.8 430.4 L2041.84 430.4 L2042.88 430.34 L2043.92 429.83 L2044.96 428.86 L2046 427.55 L2047.04 426.04 L2048.08 424.48 L2049.12 423.04 L2050.16 421.89 L2051.2 420.73 L2052.24 417.81 L2053.28 413.87 L2054.32 409.22 L2055.36 403.98 L2056.4 398.14 L2057.44 391.65 L2058.48 384.46 L2059.52 376.46 L2060.56 367.61 L2061.6 357.86 L2062.64 347.3 L2063.68 336.38 L2064.72 325.23 L2065.76 313.93 L2066.8 302.52 L2067.84 291.09 L2068.88 279.68 L2069.92 268.37 L2070.96 257.21 L2072 246.26 L2073.04 235.58 L2074.08 225.22 L2075.12 215.23 L2076.16 205.67 L2077.2 196.58 L2078.24 188.01 L2079.28 179.99 L2080.32 172.58 L2081.36 165.8 L2082.4 159.69 L2083.44 154.28 L2084.48 149.59 L2085.52 145.64 L2086.56 142.47 L2087.6 140.07 L2088.64 138.46 L2089.68 137.66 L2090.72 137.66 L2091.76 138.46 L2092.8 140.07 L2093.84 142.47 L2094.88 145.64 L2095.92 149.59 L2096.96 154.28 L2098 159.69 L2099.04 165.8 L2100.08 172.58 L2101.12 179.99 L2102.16 188.01 L2103.2 196.58 L2104.24 205.67 L2105.28 215.23 L2106.32 225.22 L2107.36 235.58 L2108.4 246.26 L2109.44 257.21 L2110.48 268.37 L2111.52 279.68 L2112.56 291.09 L2113.6 302.52 L2114.64 313.93 L2115.68 325.23 L2116.72 336.38 L2117.76 347.3 L2118.8 357.92 L2119.84 368.18 L2120.88 378 L2121.92 387.3 L2122.96 396.02 L2124 404.06 L2125.04 411.33 L2126.08 417.73 L2127.12 423.13 L2128.16 427.32 L2129.2 429.99 L2130.24 430.4 L2131.28 430.4 L2132.32 430.4 L2133.36 430.4 L2134.4 430.4 L2135.44 430.4 L2136.48 430.4 L2137.52 430.4 L2138.56 430.4 L2139.6 430.4 L2140.64 430.4 L2141.68 430.4 L2142.72 430.4 L2143.76 430.4 L2144.8 430.4 L2145.84 430.4 L2146.88 430.4 L2147.92 430.4 L2148.96 430.4 L2150 430.4 L2151.04 430.4 L2152.08 430.4 L2153.12 430.4 L2154.16 430.4 L2155.2 430.4 L2156.24 430.4 L2157.28 430.4 L2158.32 430.4 L2159.36 430.4 L2160.4 430.4" fill="none" stroke="#0072BD" stroke-width="9.0" stroke-linejoin="round" stroke-linecap="butt"/>
<g font-family="Liberation Sans, Arial, sans-serif" font-size="76.5" fill="#262626" text-anchor="middle"><text transform="translate(412.2 535.4) scale(1 1.035)">0</text><text transform="translate(672.2 535.4) scale(1 1.035)">50</text><text transform="translate(932.2 535.4) scale(1 1.035)">100</text><text transform="translate(1192.2 535.4) scale(1 1.035)">150</text><text transform="translate(1452.2 535.4) scale(1 1.035)">200</text><text transform="translate(1712.2 535.4) scale(1 1.035)">250</text><text transform="translate(1972.2 535.4) scale(1 1.035)">300</text><text transform="translate(2232.2 535.4) scale(1 1.035)">350</text></g>
<g font-family="Liberation Sans, Arial, sans-serif" font-size="76.5" fill="#262626" text-anchor="end"><text transform="translate(384.6 460.9) scale(1 1.035)">0</text><text transform="translate(384.6 312.25) scale(1 1.035)">5</text><text transform="translate(384.6 163.6) scale(1 1.035)">10</text></g>
<g font-family="Liberation Serif, Times New Roman, serif" font-weight="bold" font-size="81.5" fill="#262626"><text x="1127.09" y="635.7">(a)</text><text x="1981.02" y="635.7">time [hour]</text></g>
<g font-family="Liberation Serif, Times New Roman, serif" font-weight="bold" font-size="81.5" fill="#262626"><text transform="translate(170.7 276) rotate(-90)" text-anchor="middle">Power</text><text transform="translate(265.5 282) rotate(-90)" text-anchor="middle">[MW]</text></g>
<g fill="#262626"><text x="415" y="107.4" font-family="Noto Sans CJK JP, DejaVu Sans, sans-serif" font-weight="300" font-size="57">×</text><text x="475" y="105.1" font-family="Liberation Sans, Arial, sans-serif" font-size="76.5">10</text><text x="560.5" y="67.4" font-family="Liberation Sans, Arial, sans-serif" font-size="62">5</text></g>
<path d="M465.2 1077V769.4M517.2 1077V769.4M569.2 1077V769.4M621.2 1077V769.4M725.2 1077V769.4M777.2 1077V769.4M829.2 1077V769.4M881.2 1077V769.4M985.2 1077V769.4M1037.2 1077V769.4M1089.2 1077V769.4M1141.2 1077V769.4M1245.2 1077V769.4M1297.2 1077V769.4M1349.2 1077V769.4M1401.2 1077V769.4M1505.2 1077V769.4M1557.2 1077V769.4M1609.2 1077V769.4M1661.2 1077V769.4M1765.2 1077V769.4M1817.2 1077V769.4M1869.2 1077V769.4M1921.2 1077V769.4M2025.2 1077V769.4M2077.2 1077V769.4M2129.2 1077V769.4M2181.2 1077V769.4M2233.2 1039.87H413.2M2233.2 1016.94H413.2M2233.2 994.01H413.2M2233.2 971.08H413.2M2233.2 925.22H413.2M2233.2 902.29H413.2M2233.2 879.36H413.2M2233.2 856.43H413.2M2233.2 810.57H413.2M2233.2 787.64H413.2" stroke="#c8c8c8" stroke-width="3" stroke-dasharray="3 8.704" fill="none"/>
<path d="M673.2 769.4V1077M933.2 769.4V1077M1193.2 769.4V1077M1453.2 769.4V1077M1713.2 769.4V1077M1973.2 769.4V1077M413.2 1062.8H2233.2M413.2 948.15H2233.2M413.2 833.5H2233.2" stroke="#dedede" stroke-width="3.4" fill="none"/>
<path d="M673.2 1077v-18.5M673.2 769.4v18.5M933.2 1077v-18.5M933.2 769.4v18.5M1193.2 1077v-18.5M1193.2 769.4v18.5M1453.2 1077v-18.5M1453.2 769.4v18.5M1713.2 1077v-18.5M1713.2 769.4v18.5M1973.2 1077v-18.5M1973.2 769.4v18.5M413.2 1062.8h18.5M2233.2 1062.8h-18.5M413.2 948.15h18.5M2233.2 948.15h-18.5M413.2 833.5h18.5M2233.2 833.5h-18.5" stroke="#262626" stroke-width="3.2" fill="none"/>
<rect x="413.2" y="769.4" width="1820" height="307.6" fill="none" stroke="#262626" stroke-width="3.2"/>
<path d="M419.5 780.8 C461.25 780.8 599.28 780.8 670 780.8 C740.72 780.8 810.48 780.65 843.8 780.8 C877.12 780.95 865.55 781.55 869.9 781.7 C880.02 782.72 913.25 786.13 930.6 787.8 C947.95 789.47 958.1 790.7 974 791.7 C989.9 792.7 1011.53 793.67 1026 793.8 C1040.47 793.93 1048.47 792.93 1060.8 792.5 C1073.13 792.07 1086.6 791.62 1100 791.2 C1113.4 790.78 1129.93 790.73 1141.2 790 C1152.47 789.27 1163.2 787.33 1167.6 786.8 C1171.85 788.12 1183.92 792 1193.1 794.7 C1202.28 797.4 1216.33 800.38 1222.7 803 C1229.07 805.62 1225.53 805.37 1231.3 810.4 C1237.07 815.43 1249.83 825.6 1257.3 833.2 C1264.77 840.8 1269.17 848.4 1276.1 856 C1283.03 863.6 1291.42 871.2 1298.9 878.8 C1306.38 886.4 1312.87 894 1321 901.6 C1329.13 909.2 1337.7 917.25 1347.7 924.4 C1357.7 931.55 1372.22 940.13 1381 944.5 C1389.78 948.87 1397.17 949.58 1400.4 950.6 C1405.65 954.75 1423.17 970.7 1431.9 975.5 C1440.63 980.3 1446.52 978.43 1452.8 979.4 C1459.08 980.37 1464.97 981.25 1469.6 981.3 C1474.23 981.35 1474.7 979.7 1480.6 979.7 C1486.5 979.7 1498.18 980.9 1505 981.3 C1511.82 981.7 1517.17 982.68 1521.5 982.1 C1525.83 981.52 1529.42 978.52 1531 977.8 C1535.32 978.85 1550.88 982.6 1556.9 984.1 C1562.92 985.6 1563.57 985.3 1567.1 986.8 C1570.63 988.3 1572.33 990.4 1578.1 993.1 C1583.87 995.8 1594.62 1002.13 1601.7 1003 C1608.78 1003.87 1615.88 999.95 1620.6 998.3 C1625.32 996.65 1624.88 997.82 1630 993.1 C1635.12 988.38 1646.13 976.27 1651.3 970 C1656.47 963.73 1657.9 959.27 1661 955.5 C1664.1 951.73 1664.35 952.58 1669.9 947.4 C1675.45 942.22 1687.75 932.03 1694.3 924.4 C1700.85 916.77 1704.48 909.2 1709.2 901.6 C1713.92 894 1718.28 886.4 1722.6 878.8 C1726.92 871.2 1730.52 863.6 1735.1 856 C1739.68 848.4 1744.58 840.8 1750.1 833.2 C1755.62 825.6 1762.43 816.6 1768.2 810.4 C1773.97 804.2 1779.85 799.15 1784.7 796 C1789.55 792.85 1791.93 793.25 1797.3 791.5 C1802.67 789.75 1811.12 787.08 1816.9 785.5 C1822.68 783.92 1829.48 782.58 1832 782 C1835 781.92 1838.67 781.6 1850 781.5 C1861.33 781.4 1875 781.42 1900 781.4 C1925 781.38 1966.67 781.4 2000 781.4 C2033.33 781.4 2073.53 781.4 2100 781.4 C2126.47 781.4 2149 781.4 2158.8 781.4" fill="none" stroke="#0072BD" stroke-width="9.0" stroke-linejoin="round" stroke-linecap="butt"/>
<g font-family="Liberation Sans, Arial, sans-serif" font-size="76.5" fill="#262626" text-anchor="middle"><text transform="translate(412.2 1182) scale(1 1.035)">0</text><text transform="translate(672.2 1182) scale(1 1.035)">50</text><text transform="translate(932.2 1182) scale(1 1.035)">100</text><text transform="translate(1192.2 1182) scale(1 1.035)">150</text><text transform="translate(1452.2 1182) scale(1 1.035)">200</text><text transform="translate(1712.2 1182) scale(1 1.035)">250</text><text transform="translate(1972.2 1182) scale(1 1.035)">300</text><text transform="translate(2232.2 1182) scale(1 1.035)">350</text></g>
<g font-family="Liberation Sans, Arial, sans-serif" font-size="76.5" fill="#262626" text-anchor="end"><text transform="translate(384.6 1093.3) scale(1 1.035)">0.95</text><text transform="translate(384.6 978.65) scale(1 1.035)">1</text><text transform="translate(384.6 864) scale(1 1.035)">1.05</text></g>
<g font-family="Liberation Serif, Times New Roman, serif" font-weight="bold" font-size="81.5" fill="#262626"><text x="1124.8" y="1282.3">(b)</text><text x="1983.31" y="1282.3">time [hour]</text></g>
<g font-family="Liberation Serif, Times New Roman, serif" font-weight="bold" font-size="81.5" fill="#262626"><text transform="translate(106.4 924.6) rotate(-90)" text-anchor="middle">Power due to</text><text transform="translate(201.5 925.9) rotate(-90)" text-anchor="middle">shading [MW]</text></g>
<g fill="#262626"><text x="415" y="754.4" font-family="Noto Sans CJK JP, DejaVu Sans, sans-serif" font-weight="300" font-size="57">×</text><text x="475" y="752.1" font-family="Liberation Sans, Arial, sans-serif" font-size="76.5">10</text><text x="560.5" y="714.4" font-family="Liberation Sans, Arial, sans-serif" font-size="62">6</text></g>
<path d="M465.2 1726.5V1420.1M517.2 1726.5V1420.1M569.2 1726.5V1420.1M621.2 1726.5V1420.1M725.2 1726.5V1420.1M777.2 1726.5V1420.1M829.2 1726.5V1420.1M881.2 1726.5V1420.1M985.2 1726.5V1420.1M1037.2 1726.5V1420.1M1089.2 1726.5V1420.1M1141.2 1726.5V1420.1M1245.2 1726.5V1420.1M1297.2 1726.5V1420.1M1349.2 1726.5V1420.1M1401.2 1726.5V1420.1M1505.2 1726.5V1420.1M1557.2 1726.5V1420.1M1609.2 1726.5V1420.1M1661.2 1726.5V1420.1M1765.2 1726.5V1420.1M1817.2 1726.5V1420.1M1869.2 1726.5V1420.1M1921.2 1726.5V1420.1M2025.2 1726.5V1420.1M2077.2 1726.5V1420.1M2129.2 1726.5V1420.1M2181.2 1726.5V1420.1M2233.2 1720.08H413.2M2233.2 1705.34H413.2M2233.2 1675.86H413.2M2233.2 1661.12H413.2M2233.2 1646.38H413.2M2233.2 1631.64H413.2M2233.2 1602.16H413.2M2233.2 1587.42H413.2M2233.2 1572.68H413.2M2233.2 1557.94H413.2M2233.2 1528.46H413.2M2233.2 1513.72H413.2M2233.2 1498.98H413.2M2233.2 1484.24H413.2M2233.2 1454.76H413.2M2233.2 1440.02H413.2M2233.2 1425.28H413.2" stroke="#c8c8c8" stroke-width="3" stroke-dasharray="3 8.704" fill="none"/>
<path d="M673.2 1420.1V1726.5M933.2 1420.1V1726.5M1193.2 1420.1V1726.5M1453.2 1420.1V1726.5M1713.2 1420.1V1726.5M1973.2 1420.1V1726.5M413.2 1690.6H2233.2M413.2 1616.9H2233.2M413.2 1543.2H2233.2M413.2 1469.5H2233.2" stroke="#dedede" stroke-width="3.4" fill="none"/>
<path d="M673.2 1726.5v-18.5M673.2 1420.1v18.5M933.2 1726.5v-18.5M933.2 1420.1v18.5M1193.2 1726.5v-18.5M1193.2 1420.1v18.5M1453.2 1726.5v-18.5M1453.2 1420.1v18.5M1713.2 1726.5v-18.5M1713.2 1420.1v18.5M1973.2 1726.5v-18.5M1973.2 1420.1v18.5M413.2 1690.6h18.5M2233.2 1690.6h-18.5M413.2 1616.9h18.5M2233.2 1616.9h-18.5M413.2 1543.2h18.5M2233.2 1543.2h-18.5M413.2 1469.5h18.5M2233.2 1469.5h-18.5" stroke="#262626" stroke-width="3.2" fill="none"/>
<rect x="413.2" y="1420.1" width="1820" height="306.4" fill="none" stroke="#262626" stroke-width="3.2"/>
<path d="M418.4 1455.99 L423.6 1459.52 L428.8 1463.05 L434 1466.58 L439.2 1470.1 L444.4 1473.61 L449.6 1477.12 L454.8 1480.62 L460 1484.11 L465.2 1487.6 L470.4 1491.08 L475.6 1494.56 L480.8 1498.02 L486 1501.48 L491.2 1504.92 L496.4 1508.36 L501.6 1511.79 L506.8 1515.21 L512 1518.62 L517.2 1522.02 L522.4 1525.41 L527.6 1528.79 L532.8 1532.15 L538 1535.51 L543.2 1538.85 L548.4 1542.18 L553.6 1545.5 L558.8 1548.81 L564 1552.1 L569.2 1555.38 L574.4 1558.65 L579.6 1561.9 L584.8 1565.14 L590 1568.36 L595.2 1571.57 L600.4 1574.76 L605.6 1577.94 L610.8 1581.1 L616 1584.24 L621.2 1587.37 L626.4 1590.48 L631.6 1593.58 L636.8 1596.65 L642 1599.71 L647.2 1602.75 L652.4 1605.78 L657.6 1608.78 L662.8 1611.76 L668 1614.73 L673.2 1617.68 L678.4 1620.6 L683.6 1623.51 L688.8 1626.39 L694 1629.25 L699.2 1632.08 L704.4 1634.89 L709.6 1637.68 L714.8 1640.44 L720 1643.17 L725.2 1645.87 L730.4 1648.54 L735.6 1651.18 L740.8 1653.79 L746 1656.36 L751.2 1658.91 L756.4 1661.41 L761.6 1663.88 L766.8 1666.32 L772 1668.71 L777.2 1671.07 L782.4 1673.39 L787.6 1675.67 L792.8 1677.9 L798 1680.1 L803.2 1682.25 L808.4 1684.35 L813.6 1686.41 L818.8 1688.42 L824 1690.39 L829.2 1692.3 L834.4 1694.17 L839.6 1695.99 L844.8 1697.75 L850 1699.46 L855.2 1701.12 L860.4 1702.72 L865.6 1704.27 L870.8 1705.76 L876 1707.2 L881.2 1708.57 L886.4 1709.89 L891.6 1711.15 L896.8 1712.35 L902 1713.49 L907.2 1714.57 L912.4 1715.6 L917.6 1716.57 L922.8 1717.49 L928 1718.35 L933.2 1719.16 L938.4 1719.91 L943.6 1720.62 L948.8 1721.27 L954 1721.86 L959.2 1722.41 L964.4 1722.9 L969.6 1723.35 L974.8 1723.75 L980 1724.09 L985.2 1724.39 L990.4 1724.64 L995.6 1724.85 L1000.8 1725.01 L1006 1725.12 L1011.2 1725.19 L1016.4 1725.21 L1021.6 1725.19 L1026.8 1725.12 L1032 1725.01 L1037.2 1724.86 L1042.4 1724.67 L1047.6 1724.44 L1052.8 1724.16 L1058 1723.85 L1063.2 1723.5 L1068.4 1723.1 L1073.6 1722.67 L1078.8 1722.21 L1084 1721.7 L1089.2 1721.16 L1094.4 1720.58 L1099.6 1719.97 L1104.8 1719.32 L1110 1718.64 L1115.2 1717.93 L1120.4 1717.18 L1125.6 1716.4 L1130.8 1715.59 L1136 1714.75 L1141.2 1713.88 L1146.4 1712.98 L1151.6 1712.05 L1156.8 1711.09 L1162 1710.1 L1167.2 1709.08 L1172.4 1708.04 L1177.6 1706.97 L1182.8 1705.87 L1188 1704.75 L1193.2 1703.61 L1198.4 1702.44 L1203.6 1701.25 L1208.8 1700.03 L1214 1698.8 L1219.2 1697.54 L1224.4 1696.26 L1229.6 1694.96 L1234.8 1693.64 L1240 1692.3 L1245.2 1690.94 L1250.4 1689.57 L1255.6 1688.18 L1260.8 1686.77 L1266 1685.34 L1271.2 1683.9 L1276.4 1682.44 L1281.6 1680.97 L1286.8 1679.48 L1292 1677.99 L1297.2 1676.47 L1302.4 1674.95 L1307.6 1673.42 L1312.8 1671.89 L1318 1670.37 L1323.2 1668.86 L1328.4 1667.36 L1333.6 1665.88 L1338.8 1664.44 L1344 1663.03 L1349.2 1661.65 L1354.4 1660.33 L1359.6 1659.05 L1364.8 1657.83 L1370 1656.67 L1375.2 1655.59 L1380.4 1654.57 L1385.6 1653.64 L1390.8 1652.79 L1396 1652.03 L1401.2 1651.38 L1406.4 1650.82 L1411.6 1650.35 L1416.8 1649.98 L1422 1649.68 L1427.2 1649.46 L1432.4 1649.31 L1437.6 1649.21 L1442.8 1649.16 L1448 1649.16 L1453.2 1649.19 L1458.4 1649.25 L1463.6 1649.33 L1468.8 1649.43 L1474 1649.53 L1479.2 1649.63 L1484.4 1649.72 L1489.6 1649.79 L1494.8 1649.84 L1500 1649.86 L1505.2 1649.83 L1510.4 1649.77 L1515.6 1649.65 L1520.8 1649.49 L1526 1649.28 L1531.2 1649.03 L1536.4 1648.73 L1541.6 1648.38 L1546.8 1647.98 L1552 1647.53 L1557.2 1647.04 L1562.4 1646.49 L1567.6 1645.9 L1572.8 1645.26 L1578 1644.57 L1583.2 1643.83 L1588.4 1643.04 L1593.6 1642.2 L1598.8 1641.31 L1604 1640.38 L1609.2 1639.39 L1614.4 1638.35 L1619.6 1637.26 L1624.8 1636.12 L1630 1634.94 L1635.2 1633.71 L1640.4 1632.45 L1645.6 1631.14 L1650.8 1629.79 L1656 1628.41 L1661.2 1626.99 L1666.4 1625.53 L1671.6 1624.05 L1676.8 1622.53 L1682 1620.98 L1687.2 1619.41 L1692.4 1617.81 L1697.6 1616.19 L1702.8 1614.55 L1708 1612.88 L1713.2 1611.2 L1718.4 1609.5 L1723.6 1607.78 L1728.8 1606.04 L1734 1604.29 L1739.2 1602.52 L1744.4 1600.74 L1749.6 1598.94 L1754.8 1597.12 L1760 1595.29 L1765.2 1593.44 L1770.4 1591.58 L1775.6 1589.7 L1780.8 1587.81 L1786 1585.9 L1791.2 1583.98 L1796.4 1582.04 L1801.6 1580.09 L1806.8 1578.12 L1812 1576.14 L1817.2 1574.15 L1822.4 1572.14 L1827.6 1570.12 L1832.8 1568.08 L1838 1566.04 L1843.2 1563.97 L1848.4 1561.9 L1853.6 1559.82 L1858.8 1557.72 L1864 1555.61 L1869.2 1553.48 L1874.4 1551.35 L1879.6 1549.2 L1884.8 1547.05 L1890 1544.88 L1895.2 1542.7 L1900.4 1540.51 L1905.6 1538.31 L1910.8 1536.09 L1916 1533.87 L1921.2 1531.64 L1926.4 1529.39 L1931.6 1527.14 L1936.8 1524.88 L1942 1522.61 L1947.2 1520.32 L1952.4 1518.03 L1957.6 1515.73 L1962.8 1513.42 L1968 1511.11 L1973.2 1508.78 L1978.4 1506.44 L1983.6 1504.1 L1988.8 1501.75 L1994 1499.39 L1999.2 1497.03 L2004.4 1494.65 L2009.6 1492.27 L2014.8 1489.89 L2020 1487.49 L2025.2 1485.09 L2030.4 1482.68 L2035.6 1480.27 L2040.8 1477.85 L2046 1475.42 L2051.2 1472.99 L2056.4 1470.55 L2061.6 1468.11 L2066.8 1465.66 L2072 1463.2 L2077.2 1460.74 L2082.4 1458.28 L2087.6 1455.81 L2092.8 1453.34 L2098 1450.86 L2103.2 1448.38 L2108.4 1445.89 L2113.6 1443.41 L2118.8 1440.91 L2124 1438.42 L2129.2 1435.92 L2134.4 1433.42 L2139.6 1430.91 L2144.8 1428.4 L2150 1425.89 L2155.2 1423.38 L2160.4 1420.87" fill="none" stroke="#0072BD" stroke-width="9.0" stroke-linejoin="round" stroke-linecap="butt"/>
<g font-family="Liberation Sans, Arial, sans-serif" font-size="76.5" fill="#262626" text-anchor="middle"><text transform="translate(412.2 1831.5) scale(1 1.035)">0</text><text transform="translate(672.2 1831.5) scale(1 1.035)">50</text><text transform="translate(932.2 1831.5) scale(1 1.035)">100</text><text transform="translate(1192.2 1831.5) scale(1 1.035)">150</text><text transform="translate(1452.2 1831.5) scale(1 1.035)">200</text><text transform="translate(1712.2 1831.5) scale(1 1.035)">250</text><text transform="translate(1972.2 1831.5) scale(1 1.035)">300</text><text transform="translate(2232.2 1831.5) scale(1 1.035)">350</text></g>
<g font-family="Liberation Sans, Arial, sans-serif" font-size="76.5" fill="#262626" text-anchor="end"><text transform="translate(384.6 1721.1) scale(1 1.035)">3000</text><text transform="translate(384.6 1647.4) scale(1 1.035)">3500</text><text transform="translate(384.6 1573.7) scale(1 1.035)">4000</text><text transform="translate(384.6 1500) scale(1 1.035)">4500</text></g>
<g font-family="Liberation Serif, Times New Roman, serif" font-weight="bold" font-size="81.5" fill="#262626"><text x="1129.36" y="1931.8">(c)</text><text x="1978.75" y="1931.8">time [hour]</text></g>
<g font-family="Liberation Serif, Times New Roman, serif" font-weight="bold" font-size="81.5" fill="#262626"><text transform="translate(86.1 1574.5) rotate(-90)" text-anchor="middle">Mean</text><text transform="translate(182.5 1576.8) rotate(-90)" text-anchor="middle">dist.[km]</text></g>
<path d="M465.2 2373.3V2066.9M517.2 2373.3V2066.9M569.2 2373.3V2066.9M621.2 2373.3V2066.9M725.2 2373.3V2066.9M777.2 2373.3V2066.9M829.2 2373.3V2066.9M881.2 2373.3V2066.9M985.2 2373.3V2066.9M1037.2 2373.3V2066.9M1089.2 2373.3V2066.9M1141.2 2373.3V2066.9M1245.2 2373.3V2066.9M1297.2 2373.3V2066.9M1349.2 2373.3V2066.9M1401.2 2373.3V2066.9M1505.2 2373.3V2066.9M1557.2 2373.3V2066.9M1609.2 2373.3V2066.9M1661.2 2373.3V2066.9M1765.2 2373.3V2066.9M1817.2 2373.3V2066.9M1869.2 2373.3V2066.9M1921.2 2373.3V2066.9M2025.2 2373.3V2066.9M2077.2 2373.3V2066.9M2129.2 2373.3V2066.9M2181.2 2373.3V2066.9M2233.2 2320.02H413.2M2233.2 2266.74H413.2M2233.2 2213.46H413.2M2233.2 2160.18H413.2" stroke="#c8c8c8" stroke-width="3" stroke-dasharray="3 8.704" fill="none"/>
<path d="M673.2 2066.9V2373.3M933.2 2066.9V2373.3M1193.2 2066.9V2373.3M1453.2 2066.9V2373.3M1713.2 2066.9V2373.3M1973.2 2066.9V2373.3M413.2 2373.3H2233.2M413.2 2106.9H2233.2" stroke="#dedede" stroke-width="3.4" fill="none"/>
<path d="M673.2 2373.3v-18.5M673.2 2066.9v18.5M933.2 2373.3v-18.5M933.2 2066.9v18.5M1193.2 2373.3v-18.5M1193.2 2066.9v18.5M1453.2 2373.3v-18.5M1453.2 2066.9v18.5M1713.2 2373.3v-18.5M1713.2 2066.9v18.5M1973.2 2373.3v-18.5M1973.2 2066.9v18.5M413.2 2373.3h18.5M2233.2 2373.3h-18.5M413.2 2106.9h18.5M2233.2 2106.9h-18.5" stroke="#262626" stroke-width="3.2" fill="none"/>
<rect x="413.2" y="2066.9" width="1820" height="306.4" fill="none" stroke="#262626" stroke-width="3.2"/>
<path d="M418.7 2066.8 L1381 2372.5 L2159 2154" fill="none" stroke="#0072BD" stroke-width="9.0" stroke-linejoin="round" stroke-linecap="butt"/>
<g font-family="Liberation Sans, Arial, sans-serif" font-size="76.5" fill="#262626" text-anchor="middle"><text transform="translate(412.2 2478.3) scale(1 1.035)">0</text><text transform="translate(672.2 2478.3) scale(1 1.035)">50</text><text transform="translate(932.2 2478.3) scale(1 1.035)">100</text><text transform="translate(1192.2 2478.3) scale(1 1.035)">150</text><text transform="translate(1452.2 2478.3) scale(1 1.035)">200</text><text transform="translate(1712.2 2478.3) scale(1 1.035)">250</text><text transform="translate(1972.2 2478.3) scale(1 1.035)">300</text><text transform="translate(2232.2 2478.3) scale(1 1.035)">350</text></g>
<g font-family="Liberation Sans, Arial, sans-serif" font-size="76.5" fill="#262626" text-anchor="end"><text transform="translate(384.6 2403.8) scale(1 1.035)">0</text><text transform="translate(384.6 2137.4) scale(1 1.035)">5000</text></g>
<g font-family="Liberation Serif, Times New Roman, serif" font-weight="bold" font-size="81.5" fill="#262626"><text x="1124.8" y="2578.6">(d)</text><text x="1983.31" y="2578.6">time [hour]</text></g>
<g font-family="Liberation Serif, Times New Roman, serif" font-weight="bold" font-size="81.5" fill="#262626"><text transform="translate(85.8 2220.5) rotate(-90)" text-anchor="middle">Minimum</text><text transform="translate(181.5 2223.4) rotate(-90)" text-anchor="middle">dist.[km]</text></g>
</svg></body></html>
